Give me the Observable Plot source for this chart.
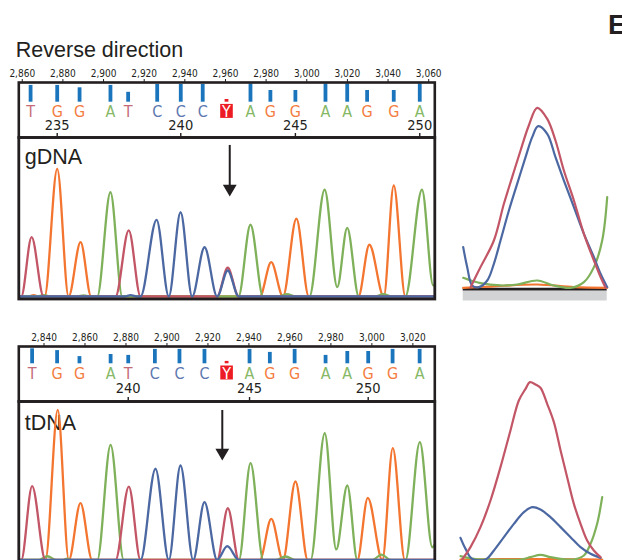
<!DOCTYPE html>
<html>
<head>
<meta charset="utf-8">
<script src="https://cdn.jsdelivr.net/npm/d3@7"></script>
<script src="https://cdn.jsdelivr.net/npm/@observablehq/plot@0.6"></script>
<style>
  html, body { margin: 0; padding: 0; background: #fff; overflow: hidden; }
  #chart { position: relative; width: 622px; height: 560px; overflow: hidden; background: #fff; }
  #chart svg { position: absolute; left: 0; top: 0; max-width: none; background: transparent; }
</style>
</head>
<body>
<div id="chart"></div>
<script>
// ---------------- DATA ----------------
const bases = ["T","G","G","A","T","C","C","C","Y","A","G","G","A","A","G","G","A"];

// gDNA (top) panel
const gScanTicks = [2860, 2880, 2900, 2920, 2940, 2960, 2980, 3000, 3020, 3040, 3060];
const gBaseScans = [2864.1, 2877.2, 2888.2, 2903.4, 2912.1, 2926.4, 2938.0, 2948.8, 2960.5, 2972.3, 2982.1, 2994.4, 3009.2, 3019.9, 3029.7, 3042.8, 3055.6];
const gQuality = [56, 56, 48, 56, 33, 59, 59, 59, 9, 61, 39, 39, 61, 61, 39, 39, 61];
const gFirstPosition = 234;
const gTraceT = [[2858.3,0],[2859.5,0],[2864.6,45.6],[2870.5,0],[2905.9,0],[2912.4,50.8],[2918.2,0],[2955.9,0],[2961.1,22.1],[2966.5,0],[3063,0]];
const gTraceG = [[2858.3,0],[2863,0],[2865.6,1],[2868,0],[2871.0,0],[2877.2,98.2],[2882.8,0],[2888.7,41.8],[2893.9,0],[2976.9,0],[2982.5,26.4],[2988.3,0],[2994.9,59.8],[3001.0,0],[3025.4,0],[3030.8,39.8],[3037.9,0],[3042.8,85.4],[3048.5,0],[3063,0]];
const gTraceA = [[2858.3,0],[2867,0],[2870.6,1],[2874,0],[2887,0],[2890.2,0.8],[2893,0],[2896.9,0],[2903.4,80.2],[2909.2,0],[2966.4,0],[2972.3,55.2],[2978.5,0],[2986.1,0],[2990.3,1.8],[2994.4,0],[3001.3,0],[3008.8,82.1],[3015.0,7.2],[3019.9,52.8],[3025.6,0],[3033.8,0],[3037.7,1.8],[3041.7,0],[3048.5,0],[3056.7,82.1],[3062.2,8.5],[3063,9.5]];
const gTraceC = [[2858.3,0],[2910.3,0],[2913.3,1],[2916.7,0],[2918.2,0],[2926.1,59.0],[2932.1,0],[2937.9,64.8],[2943.6,0],[2949.7,37.9],[2955.9,0],[2961.1,20],[2966.5,0],[3063,0]];
const gArrow = {scan: 2962.1, from: 116.2, to: 83.5, tip: 76.9};
// gDNA zoomed Y peak (inset)
const gZoomT = [[2955.89,0.1],[2956.68,2.56],[2957.75,5.83],[2958.55,10.33],[2959.21,13.6],[2959.88,16.87],[2960.54,19.94],[2961.21,22.11],[2962.01,20.76],[2962.67,18.1],[2963.34,14.42],[2964.14,10.74],[2964.94,6.65],[2965.74,3.37],[2966.27,1.33],[2966.67,0.02]];
const gZoomC = [[2955.3,5.01],[2955.62,2.56],[2956.02,0.31],[2956.55,0.1],[2957.22,0.92],[2957.75,2.97],[2958.28,5.83],[2958.95,9.51],[2959.61,12.78],[2960.28,16.05],[2960.81,18.51],[2961.29,19.86],[2962.01,18.92],[2962.67,16.05],[2963.34,13.19],[2964.14,9.92],[2964.94,6.65],[2965.74,3.78],[2966.27,1.74],[2966.8,0.1]];
const gZoomA = [[2955.3,1.25],[2956.68,0.59],[2958.28,0.31],[2959.61,0.43],[2961.21,0.92],[2962.54,0.31],[2963.87,0.02],[2964.94,0.72],[2965.74,2.56],[2966.4,5.83],[2966.8,11.15]];
const gZoomG = [[2955.3,0.02],[2957.5,0.18],[2961.21,0.43],[2964.14,0.1],[2966.8,0.02]];

// tDNA (bottom) panel
const tScanTicks = [2840, 2860, 2880, 2900, 2920, 2940, 2960, 2980, 3000, 3020];
const tBaseScans = [2834.2, 2846.4, 2857.3, 2872.5, 2881.1, 2894.1, 2906.1, 2918.3, 2929.1, 2940.3, 2950.2, 2962.3, 2977.4, 2988.0, 2998.2, 3010.1, 3023.3];
const tQuality = [50, 44, 24, 31, 28, 48, 48, 48, 8, 48, 38, 48, 28, 41, 41, 48, 48];
const tFirstPosition = 236;
const tTraceT = [[2827.7,0],[2828.9,0],[2834.2,56.8],[2840.7,0],[2874.9,0],[2881.4,56.5],[2887.1,0],[2924.5,0],[2929.7,39.8],[2935.1,0],[3030.7,0]];
const tTraceG = [[2827.7,0],[2840.7,0],[2846.7,115.5],[2852.1,0],[2857.8,43.7],[2863.5,0],[2945.3,0],[2950.9,31.7],[2956.6,0],[2962.7,60.4],[2968.7,0],[2992.9,0],[2998.0,47.8],[3005.1,0],[3010.2,86.0],[3016.1,0],[3030.7,0]];
const tTraceA = [[2827.7,0],[2837.3,0],[2841.6,2.9],[2846.1,0],[2849,0],[2851.3,1],[2854,0],[2866.0,0],[2872.5,88.6],[2878.9,0],[2935.1,0],[2940.8,74.5],[2947.0,0],[2953.0,0],[2957.9,2.7],[2962.7,0],[2970.1,0],[2977.0,97.5],[2982.6,8.1],[2988.0,57.3],[2992.9,0],[3000.3,0],[3004.7,4.2],[3009.1,0],[3016.4,0],[3023.4,90.6],[3029.5,9.8],[3030.7,12]];
const tTraceC = [[2827.7,0],[2887.1,0],[2894.4,70.2],[2900.9,0],[2906.6,72.7],[2912.8,0],[2918.3,44.5],[2924.5,0],[2929.4,10.6],[2935.1,0],[3030.7,0]];
const tArrow = {scan: 2927.0, from: 115, to: 84, tip: 76.5};
// tDNA zoomed Y peak (inset)
const tZoomT = [[2924.13,0],[2924.79,2.77],[2925.58,7.26],[2926.37,13.24],[2927.16,20.72],[2927.95,28.95],[2928.61,35.68],[2929.14,38.29],[2929.48,39.79],[2929.93,39.27],[2930.32,38.52],[2930.85,34.93],[2931.38,30.82],[2931.91,24.46],[2932.43,18.47],[2932.96,12.49],[2933.49,8.0],[2934.01,4.26],[2934.54,2.02],[2935.07,0.52]];
const tZoomC = [[2924.0,4.86],[2924.4,2.39],[2924.92,0.15],[2925.98,0],[2926.64,2.02],[2927.43,5.01],[2928.22,8.0],[2929.01,10.62],[2929.67,11.74],[2930.32,11.22],[2931.11,9.5],[2931.91,7.26],[2932.7,5.01],[2933.49,2.77],[2934.28,1.27],[2935.07,0.37]];
const tZoomA = [[2924.0,0.75],[2925.05,0.15],[2926.11,0],[2928.74,0],[2929.53,0.52],[2930.32,1.05],[2931.11,0.52],[2931.91,0.15],[2932.96,0],[2933.75,0.9],[2934.28,3.52],[2934.8,8.0],[2935.2,13.99]];
const tZoomG = [[2924.0,0],[2929.5,0.1],[2935.2,0]];

// ---------------- STYLE ----------------
const W = 622, H = 560;
const BOX_L = 18.3, BOX_R = 434.3;
const INK = "#231f20";
const SANS = "'Liberation Sans', Arial, Helvetica, sans-serif";
const NARROW = "'Liberation Sans Narrow', 'Arial Narrow', 'DejaVu Sans Condensed', 'Liberation Sans', sans-serif";
const traceColor = {T: "#c25566", G: "#f37530", A: "#7fb05a", C: "#4c68a2"};
const letterColor = {T: "#c66a78", G: "#f47d42", A: "#86b866", C: "#5d78b0", Y: "#ffffff"};
const BAR = "#1b75bc", LOWQ = "#ed1c24";

const ySymbolBox = {draw(ctx) { ctx.rect(-6.3, -7, 12.6, 14); }};
const tickUp = {draw(ctx) { ctx.moveTo(0, 0); ctx.lineTo(0, -4.5); }};
const arrowHead = {draw(ctx) { ctx.moveTo(0, 0); ctx.lineTo(-6.9, -11.8); ctx.lineTo(6.9, -11.8); ctx.closePath(); }};

const chart = document.getElementById("chart");
function place(svg) { chart.appendChild(svg); }

function stripPlot(cfg) {
  const rows = bases.map((b, i) => ({base: b, scan: cfg.scans[i], q: cfg.quality[i], pos: cfg.first + i}));
  const numbered = rows.filter(d => d.pos % 5 === 0);
  return Plot.plot({
    width: W, height: H,
    marginLeft: BOX_L, marginRight: W - BOX_R, marginTop: cfg.top, marginBottom: H - cfg.bottom,
    style: {background: "transparent", fontFamily: NARROW, fontSize: "10px", color: INK},
    x: {domain: cfg.domain, axis: "top", ticks: cfg.ticks, tickFormat: d3.format(","), tickSize: 4, tickPadding: 2, label: null},
    y: {domain: [0, 60], range: [cfg.barBase, cfg.barBase - 18], axis: null},
    color: {type: "identity"},
    marks: [
      Plot.ruleX(rows, {x: "scan", y1: 0, y2: "q", stroke: d => d.base === "Y" ? LOWQ : BAR, strokeWidth: 3.8}),
      Plot.dot(rows.filter(d => d.base === "Y"), {x: "scan", frameAnchor: "top", dy: cfg.letterDy - 1.3, symbol: ySymbolBox, fill: LOWQ, stroke: "none"}),
      Plot.text(rows, {x: "scan", frameAnchor: "top", lineAnchor: "middle", dy: cfg.letterDy, text: "base", fill: d => letterColor[d.base], fontSize: 16, fontFamily: NARROW}),
      Plot.text(numbered, {x: "scan", frameAnchor: "bottom", lineAnchor: "middle", dy: cfg.numberDy, text: d => String(d.pos), fill: INK, fontSize: 14.5, fontFamily: NARROW}),
      Plot.dot(numbered, {x: "scan", frameAnchor: "bottom", symbol: tickUp, fill: "none", stroke: INK, strokeWidth: 1.4}),
      Plot.frame({stroke: INK, strokeWidth: 2.6}),
      ...(cfg.title ? [Plot.text([cfg.title], {frameAnchor: "top-left", textAnchor: "start", lineAnchor: "middle", dx: -3, dy: -32, fontSize: 21.5, fontFamily: SANS, fill: INK})] : [])
    ]
  });
}

function tracePlot(cfg) {
  const lineOpts = (ch) => ({x: d => d[0], y: d => d[1], stroke: traceColor[ch], strokeWidth: 2.3, curve: "monotone-x", clip: true});
  return Plot.plot({
    width: W, height: cfg.H,
    marginLeft: BOX_L, marginRight: W - BOX_R, marginTop: cfg.top, marginBottom: cfg.H - cfg.bottom,
    style: {background: "transparent", fontFamily: SANS, color: INK},
    x: {domain: cfg.domain, axis: null},
    y: {domain: [0, 100], range: [cfg.base, cfg.base - 130], axis: null},
    marks: [
      Plot.text([cfg.label], {frameAnchor: "top-left", textAnchor: "start", lineAnchor: "top", dx: 6, dy: cfg.labelDy, fontSize: 21.5, fontFamily: SANS, fill: INK}),
      Plot.line(cfg.G, lineOpts("G")),
      Plot.line(cfg.A, lineOpts("A")),
      Plot.line(cfg.T, lineOpts("T")),
      Plot.line(cfg.C, lineOpts("C")),
      Plot.ruleX([cfg.arrow], {x: "scan", y1: "from", y2: "to", stroke: INK, strokeWidth: 2}),
      Plot.dot([cfg.arrow], {x: "scan", y: "tip", symbol: arrowHead, fill: INK, stroke: "none"}),
      Plot.frame({stroke: INK, strokeWidth: 2.8})
    ]
  });
}

function insetPlot(cfg) {
  const lineOpts = (ch) => ({x: d => d[0], y: d => d[1], stroke: traceColor[ch], strokeWidth: 2.2, curve: "catmull-rom"});
  return Plot.plot({
    width: W, height: H,
    marginLeft: cfg.left, marginRight: W - cfg.right, marginTop: 0, marginBottom: 0,
    style: {background: "transparent", fontFamily: SANS, color: INK},
    x: {domain: cfg.domain, axis: null},
    y: {domain: [0, cfg.ymax], range: [cfg.base, cfg.base - cfg.ymax * cfg.pxPerUnit], axis: null},
    marks: [
      Plot.ruleY([0], {stroke: "#d1d3d4", strokeWidth: 10, dy: 7.5}),
      Plot.ruleY([0], {stroke: INK, strokeWidth: 2.7, dy: 1.1}),
      Plot.line(cfg.G, lineOpts("G")),
      Plot.line(cfg.A, lineOpts("A")),
      Plot.line(cfg.C, lineOpts("C")),
      Plot.line(cfg.T, lineOpts("T")),
      ...(cfg.letter ? [Plot.text([cfg.letter], {frameAnchor: "top-left", textAnchor: "start", lineAnchor: "top", dx: 609 - cfg.left - 1.5, dy: 13.3, fontSize: 28, fontWeight: "bold", fontFamily: SANS, fill: INK})] : [])
    ]
  });
}

// ---------------- RENDER ----------------
place(stripPlot({top: 82, bottom: 137, barBase: 101.7, letterDy: 29.7, numberDy: -12,
  domain: [2858.3, 3063.0], ticks: gScanTicks, scans: gBaseScans, quality: gQuality, first: gFirstPosition,
  title: "Reverse direction"}));
place(tracePlot({H: 560, top: 137, bottom: 298.5, base: 296, domain: [2858.3, 3063.0], label: "gDNA", labelDy: 11,
  T: gTraceT, G: gTraceG, A: gTraceA, C: gTraceC, arrow: gArrow}));
place(insetPlot({left: 462.7, right: 606.7, base: 287.5, pxPerUnit: 8.15, ymax: 25, domain: [2955.3, 2966.8],
  T: gZoomT, G: gZoomG, A: gZoomA, C: gZoomC, letter: "E"}));

place(stripPlot({top: 346, bottom: 401, barBase: 363.3, letterDy: 27.3, numberDy: -12.7,
  domain: [2827.7, 3030.7], ticks: tScanTicks, scans: tBaseScans, quality: tQuality, first: tFirstPosition}));
place(tracePlot({H: 580, top: 401, bottom: 562, base: 559.5, domain: [2827.7, 3030.7], label: "tDNA", labelDy: 13,
  T: tTraceT, G: tTraceG, A: tTraceA, C: tTraceC, arrow: tArrow}));
place(insetPlot({left: 460, right: 601.7, base: 559, pxPerUnit: 4.457, ymax: 40, domain: [2924.0, 2935.2],
  T: tZoomT, G: tZoomG, A: tZoomA, C: tZoomC}));
</script>
</body>
</html>
